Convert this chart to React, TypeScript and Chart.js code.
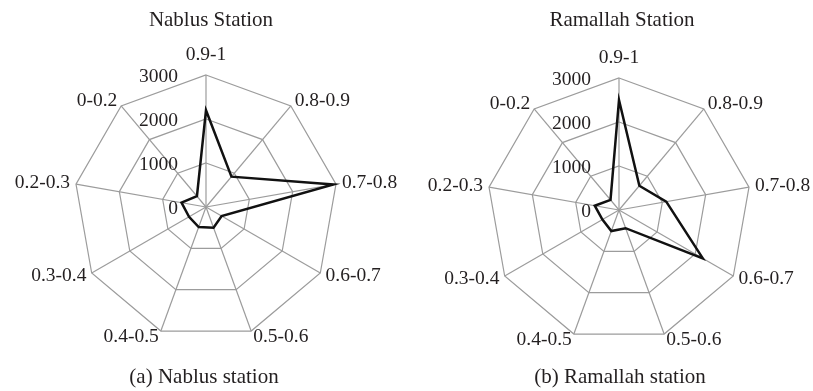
import React, { useEffect, useRef } from "react";
import { Chart, registerables } from "chart.js";

Chart.register(...registerables);

// ---- data ----
const categories = ["0.9-1", "0.8-0.9", "0.7-0.8", "0.6-0.7", "0.5-0.6", "0.4-0.5", "0.3-0.4", "0.2-0.3", "0-0.2"];
const nablusValues = [2200, 900, 2940, 410, 500, 485, 445, 565, 320];
const ramallahValues = [2500, 720, 1090, 2200, 440, 510, 435, 560, 300];
const tickValues = [0, 1000, 2000, 3000];
const titles = ["Nablus Station", "Ramallah Station"];
const captions = ["(a) Nablus station", "(b) Ramallah station"];

const TEXT = "#231f20";
const GRID = "#9c9c9c";
const FONT = "'Liberation Serif', 'Times New Roman', serif";

type PanelCfg = {
  values: number[];
  title: string;
  caption: string;
  titleX: number;
  captionX: number;
  width: number;
  padding: { left: number; right: number; top: number; bottom: number };
};

function makeLabelPlugin(cfg: PanelCfg) {
  return {
    id: "excelLabels",
    afterDraw(chart: any) {
      const s = chart.scales.r;
      const ctx = chart.ctx as CanvasRenderingContext2D;
      ctx.save();
      ctx.fillStyle = TEXT;
      ctx.font = `19.5px ${FONT}`;
      ctx.textBaseline = "middle";
      (chart.data.labels as string[]).forEach((lab, i) => {
        if (i === 0) {
          const p = s.getPointPosition(i, s.drawingArea + 20);
          ctx.textAlign = "center";
          ctx.fillText(lab, p.x, p.y);
        } else {
          const p = s.getPointPosition(i, s.drawingArea + 6);
          ctx.textAlign = p.x > s.xCenter ? "left" : "right";
          ctx.fillText(lab, p.x, p.y);
        }
      });
      ctx.textAlign = "right";
      tickValues.forEach((v) => {
        const d = s.getDistanceFromCenterForValue(v);
        ctx.fillText(String(v), s.xCenter - 28, s.yCenter - d + 1.5);
      });
      ctx.font = `21px ${FONT}`;
      ctx.textAlign = "center";
      ctx.textBaseline = "alphabetic";
      ctx.fillText(cfg.title, cfg.titleX, 26);
      ctx.fillText(cfg.caption, cfg.captionX, 383);
      ctx.restore();
    },
  };
}

function RadarPanel({ cfg }: { cfg: PanelCfg }) {
  const ref = useRef<HTMLCanvasElement | null>(null);
  useEffect(() => {
    if (!ref.current) return;
    const chart = new Chart(ref.current, {
      type: "radar",
      data: {
        labels: categories,
        datasets: [
          {
            data: cfg.values,
            borderColor: "#111111",
            backgroundColor: "rgba(0,0,0,0)",
            borderWidth: 2.5,
            pointRadius: 0,
            fill: false,
            tension: 0,
          },
        ],
      },
      options: {
        animation: false,
        responsive: false,
        maintainAspectRatio: false,
        layout: { padding: cfg.padding },
        plugins: {
          legend: { display: false },
          tooltip: { enabled: false },
          title: { display: false },
        },
        elements: { line: { borderJoinStyle: "miter" } },
        scales: {
          r: {
            min: 0,
            max: 3000,
            beginAtZero: true,
            ticks: { display: false, stepSize: 1000 },
            pointLabels: { display: false },
            grid: { color: GRID, lineWidth: 1.2, circular: false },
            angleLines: { color: GRID, lineWidth: 1.2 },
          },
        },
      },
      plugins: [makeLabelPlugin(cfg)],
    } as any);
    return () => chart.destroy();
  }, [cfg]);
  return <canvas ref={ref} width={cfg.width} height={391} style={{ display: "block" }} />;
}

const leftCfg: PanelCfg = {
  values: nablusValues,
  title: titles[0],
  caption: captions[0],
  titleX: 211,
  captionX: 204,
  width: 406,
  padding: { left: 74, right: 68, top: 75, bottom: 52 },
};

const rightCfg: PanelCfg = {
  values: ramallahValues,
  title: titles[1],
  caption: captions[1],
  titleX: 216,
  captionX: 214,
  width: 407,
  padding: { left: 81, right: 62, top: 78, bottom: 49 },
};

export default function App() {
  return (
    <div
      style={{
        position: "fixed",
        left: 0,
        top: 0,
        width: 813,
        height: 391,
        background: "#ffffff",
        display: "flex",
        flexDirection: "row",
      }}
    >
      <RadarPanel cfg={leftCfg} />
      <RadarPanel cfg={rightCfg} />
    </div>
  );
}
